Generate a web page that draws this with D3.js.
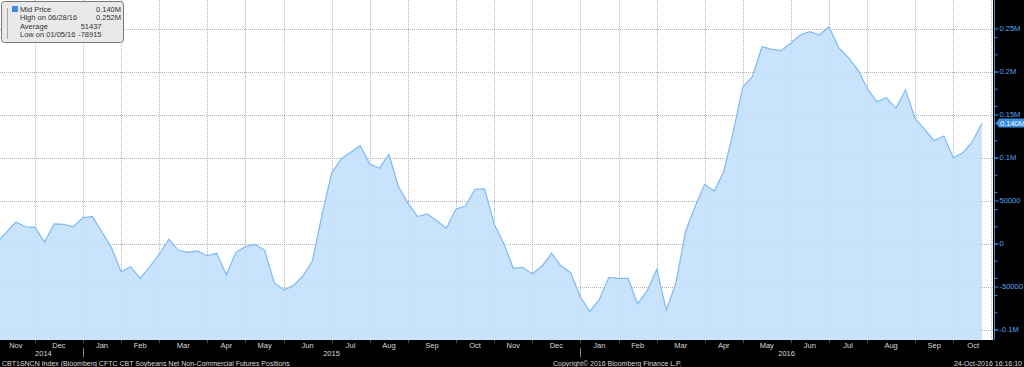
<!DOCTYPE html>
<html>
<head>
<meta charset="utf-8">
<script src="https://cdn.jsdelivr.net/npm/d3@7"></script>
<style>
body{margin:0;background:#000;}
svg{display:block;font-family:"Liberation Sans",Arial,sans-serif;}
</style>
</head>
<body>
<svg></svg>
<script>
// weekly CFTC positions, first week is Tue 28-Oct-2014
let firstWeek = new Date(2014, 9, 28);
let positions = [
  1000, 13000, 25000, 19500, 18800, 1700, 22700, 22300, 19500, 30000,
  31600, 13300, -5000, -32800, -27000, -40500, -27000, -12200, 4900, -7900,
  -10200, -8700, -14200, -11400, -36600, -10300, -3700, -1000, -7600, -45600,
  -54100, -49000, -37800, -20300, 33000, 81600, 98300, 106000, 113700, 92400,
  87400, 103500, 66000, 46700, 31200, 34300, 26500, 17700, 39800, 43600,
  63000, 63400, 22700, 200, -28800, -27700, -35500, -26200, -11400, -26200,
  -34000, -61900, -78915, -64900, -39300, -40500, -40500, -70300, -54900, -30000,
  -77300, -46300, 13700, 42800, 68800, 61000, 83500, 130000, 182300, 194000,
  228800, 225800, 224200, 232800, 242400, 246300, 242400, 252000, 228100, 216500,
  202600, 180500, 164900, 169500, 157200, 178500, 145600, 132800, 119500, 125000,
  99800, 105600, 118400, 140000
];
let yTicks = [-100000, -50000, 0, 50000, 100000, 150000, 200000, 250000];
let yTickLabels = ["-0.1M", "-50000", "0", "50000", "0.1M", "0.15M", "0.2M", "0.25M"];
let legendNames = ["Mid Price", "High on 06/28/16", "Average", "Low on 01/05/16"];
let legendValues = ["0.140M", "0.252M", "51437", "-78915"];
let lastLabel = "0.140M";
let footerLeft = "CBT1SNCN Index (Bloomberg CFTC CBT Soybeans Net Non-Commercial Futures Positions";
let footerMid = "Copyright\u00A9 2016 Bloomberg Finance L.P.";
let footerRight = "24-Oct-2016 16:16:10";

let width = 1024;
let height = 367;
let plotRight = 993;
let plotBottom = 340;
let svg = d3.select("svg").attr("width", width).attr("height", height);

let dates = positions.map((d, i) => d3.timeWeek.offset(firstWeek, i));

let xScale = d3.scaleLinear().domain([0, positions.length - 1]).range([-3.26, 982]);
let yScale = d3.scaleLinear().domain([-100000, 250000]).range([329.5, 28.5]);

// last point of every month -> gridline
let monthEnds = [];
dates.forEach((d, i) => {
  if (i == dates.length - 1 || dates[i + 1].getMonth() != d.getMonth()) monthEnds.push(i);
});
monthEnds.pop();
let yearEnds = monthEnds.filter(i => dates[i].getMonth() == 11);

svg.append("rect").attr("width", width).attr("height", height).attr("fill", "#000");
svg.append("rect").attr("width", plotRight).attr("height", plotBottom).attr("fill", "#fff");

svg.append("clipPath").attr("id", "plot")
  .append("rect").attr("width", plotRight).attr("height", plotBottom);

let px = v => Math.round(v) + 0.5;

// grid
let grid = svg.append("g").attr("stroke", "#b4b4b4").attr("stroke-dasharray", "1,1").attr("stroke-width", 1);
grid.selectAll(".h").data(yTicks).join("line")
  .attr("x1", 0).attr("x2", plotRight)
  .attr("y1", d => px(yScale(d))).attr("y2", d => px(yScale(d)));
grid.selectAll(".v").data(monthEnds).join("line")
  .attr("x1", d => px(xScale(d))).attr("x2", d => px(xScale(d)))
  .attr("y1", 0).attr("y2", plotBottom);
grid.append("line").attr("x1", plotRight - 1.5).attr("x2", plotRight - 1.5).attr("y1", 0).attr("y2", plotBottom);

// area + line
let area = d3.area()
  .x((d, i) => xScale(i))
  .y0(plotBottom)
  .y1(d => yScale(d));
let line = d3.line()
  .x((d, i) => xScale(i))
  .y(d => yScale(d));

svg.append("path").datum(positions)
  .attr("clip-path", "url(#plot)")
  .attr("d", area)
  .attr("fill", "#c6e1fc").attr("fill-opacity", 0.92);
svg.append("path").datum(positions)
  .attr("clip-path", "url(#plot)")
  .attr("d", line)
  .attr("fill", "none").attr("stroke", "#7cbaf6").attr("stroke-width", 1.2);

// month ticks + labels
svg.selectAll(".mt").data(monthEnds).join("line")
  .attr("x1", d => px(xScale(d))).attr("x2", d => px(xScale(d)))
  .attr("y1", plotBottom).attr("y2", plotBottom + 4)
  .attr("stroke", "#777").attr("stroke-dasharray", "1,1");

let bounds = monthEnds.map(i => xScale(i));
bounds.push(plotRight);
let monthLabels = monthEnds.map(i => d3.timeFormat("%b")(dates[i + 1]));
svg.selectAll(".ml").data(monthLabels).join("text")
  .attr("x", (d, i) => (bounds[i] + bounds[i + 1]) / 2)
  .attr("y", 347.5)
  .attr("text-anchor", "middle")
  .attr("font-size", 7.5)
  .attr("fill", "#d8d8d8")
  .text(d => d);

// years
let yBounds = [0].concat(yearEnds.map(i => xScale(i)));
yBounds.push(plotRight);
let yearLabels = [0].concat(yearEnds.map(i => i + 1)).map(i => dates[i].getFullYear());
svg.selectAll(".yl").data(yearLabels).join("text")
  .attr("x", (d, i) => (yBounds[i] + yBounds[i + 1]) / 2 + (i == 0 ? 2 : 0))
  .attr("y", 356)
  .attr("text-anchor", "middle")
  .attr("font-size", 7.5)
  .attr("fill", "#d8d8d8")
  .text(d => d);
svg.selectAll(".ys").data(yearEnds).join("line")
  .attr("x1", d => px(xScale(d))).attr("x2", d => px(xScale(d)))
  .attr("y1", 348).attr("y2", 357)
  .attr("stroke", "#888");

// right axis
let minor = svg.append("g").attr("transform", "translate(994.5,0)")
  .call(d3.axisRight(yScale).tickValues(yScale.ticks(14)).tickSize(3).tickFormat(""));
let major = svg.append("g").attr("transform", "translate(994.5,0)")
  .call(d3.axisRight(yScale).tickValues(yTicks).tickSize(4).tickPadding(1)
    .tickFormat(d => yTickLabels[yTicks.indexOf(d)]));
[minor, major].forEach(g => {
  g.select(".domain").attr("stroke", "#3d8ee0").attr("d", "M0,0V" + plotBottom);
  g.selectAll(".tick line").attr("stroke", "#3d8ee0");
});
major.selectAll(".tick text").attr("fill", "#55a6f2").attr("font-size", 7.5)
  .attr("font-family", "'Liberation Sans',Arial,sans-serif");

// last value tag
let ty = yScale(positions[positions.length - 1]);
svg.append("path")
  .attr("d", `M996,${ty} L999,${ty - 4.5} H1024 V${ty + 4.5} H999 Z`)
  .attr("fill", "#3d8ee0");
svg.append("text").attr("x", 1000).attr("y", ty + 2.7)
  .attr("font-size", 7.5).attr("fill", "#eaf4ff").text(lastLabel);

// legend
let lg = svg.append("g");
lg.append("rect").attr("x", 1.5).attr("y", 1.5).attr("width", 122).attr("height", 41)
  .attr("rx", 3).attr("fill", "#e9e9e9").attr("stroke", "#7a7a7a");
lg.append("rect").attr("x", 12).attr("y", 6).attr("width", 6).attr("height", 6).attr("fill", "#3d8ee0");
lg.append("line").attr("x1", 7.5).attr("x2", 7.5).attr("y1", 8).attr("y2", 39).attr("stroke", "#aaa");
lg.selectAll(".lt").data(legendNames).join("text")
  .attr("x", 20).attr("y", (d, i) => 11.5 + i * 8.6)
  .attr("font-size", 7.5).attr("fill", "#333").text(d => d);
lg.selectAll(".lv").data(legendValues).join("text")
  .attr("x", (d, i) => i < 2 ? 121 : 101.5).attr("y", (d, i) => 11.5 + i * 8.6)
  .attr("text-anchor", "end")
  .attr("font-size", 7.5).attr("fill", "#333").text(d => d);

// footer
let foot = svg.append("g").attr("font-size", 7).attr("fill", "#d8d8d8");
foot.append("text").attr("x", 2).attr("y", 365.5).text(footerLeft);
foot.append("text").attr("x", 553).attr("y", 365.5).text(footerMid);
foot.append("text").attr("x", 1022).attr("y", 365.5).attr("text-anchor", "end").text(footerRight);
</script>
</body>
</html>
